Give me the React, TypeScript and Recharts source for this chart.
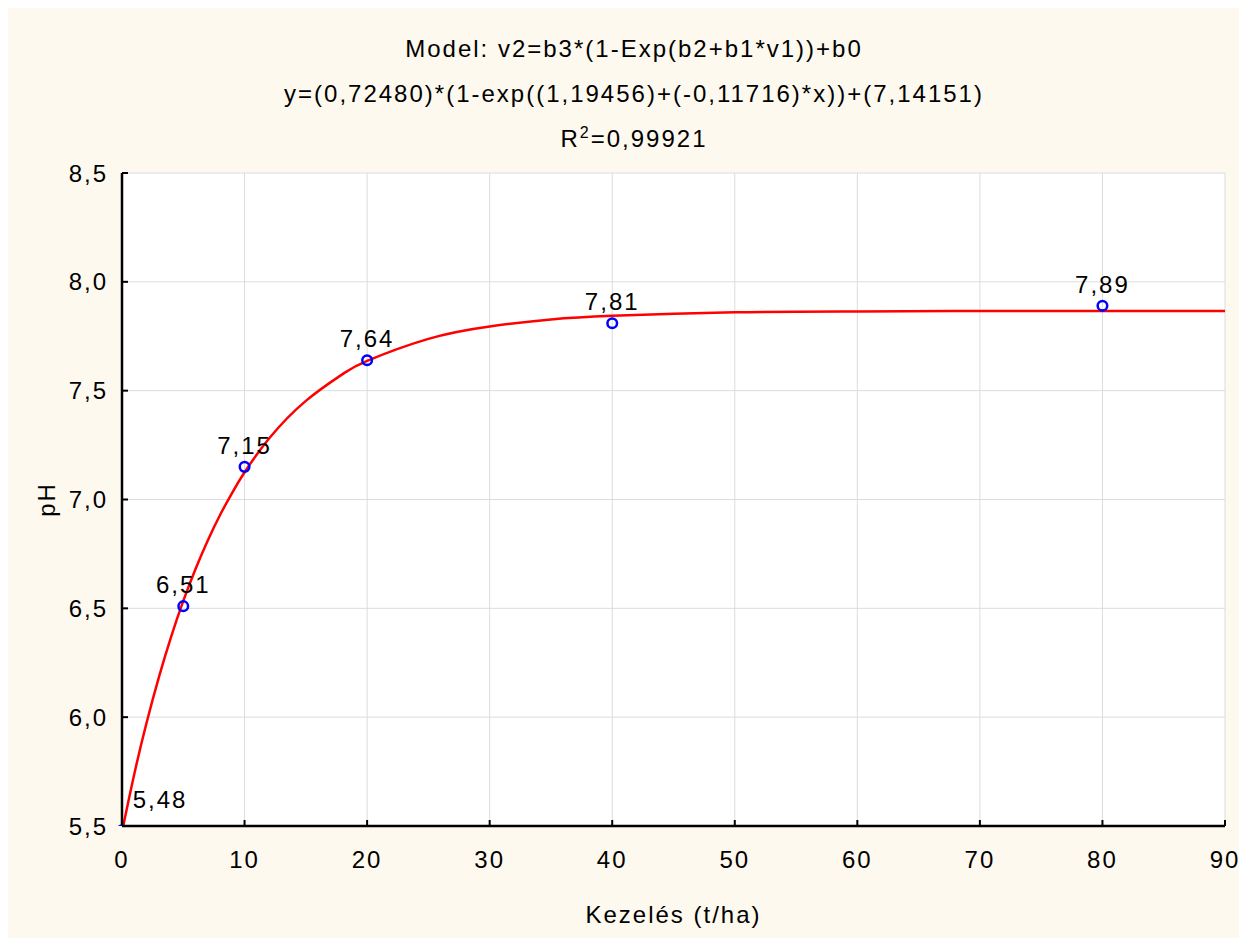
import { ComposedChart, Line, Scatter, XAxis, YAxis, CartesianGrid, LabelList } from 'recharts';

// measured points
const doseX = [0, 5, 10, 20, 40, 80];
const phY = [5.48, 6.51, 7.15, 7.64, 7.81, 7.89];
const phLabels = ['5,48', '6,51', '7,15', '7,64', '7,81', '7,89'];

// fitted curve
const curveX = [0, 1, 2, 3, 4, 5, 6, 7, 8, 9, 10, 12, 15, 18, 20, 25, 30, 35, 40, 50, 60, 70, 80, 90];
const curveY = [5.473, 5.738, 5.973, 6.182, 6.368, 6.534, 6.681, 6.812, 6.929, 7.032, 7.125, 7.28, 7.453, 7.576, 7.637, 7.738, 7.795, 7.827, 7.844, 7.86, 7.864, 7.866, 7.866, 7.866];

const xTicks = [0, 10, 20, 30, 40, 50, 60, 70, 80, 90];
const yTicks = [5.5, 6.0, 6.5, 7.0, 7.5, 8.0, 8.5];

const FONT = "Arial, 'Liberation Sans', sans-serif";
const TXT = { fontSize: 24, fontFamily: FONT, fill: '#000', letterSpacing: 2 };

const points = doseX.map((x, i) => ({ x, y: phY[i], label: phLabels[i] }));
const curve = curveX.map((x, i) => ({ x, y: curveY[i] }));

const fmtY = (v: number) => v.toFixed(1).replace('.', ',');

const Ring = (p: any) => (
  <circle cx={p.cx} cy={p.cy} r={4.8} fill="none" stroke="#0000ff" strokeWidth={2.5} />
);

const PointLabel = (p: any) => {
  const first = p.index === 0;
  return (
    <text x={p.x + p.width / 2 + (first ? 38 : 0)} y={p.y + p.height / 2 + (first ? -22 : -13)}
      textAnchor="middle" {...TXT}>
      {p.value}
    </text>
  );
};

// ticks point inward, into the plot
const BottomTick = (p: any) => (
  <g>
    <line x1={p.x} x2={p.x} y1={p.y - 25} y2={p.y - 31} stroke="#000" strokeWidth={2} />
    <text x={p.x} y={p.y} dy="0.71em" textAnchor="middle" {...TXT}>{p.payload.value}</text>
  </g>
);
const LeftTick = (p: any) => (
  <g>
    <line x1={p.x + 14} x2={p.x + 20} y1={p.y} y2={p.y} stroke="#000" strokeWidth={2} />
    <text x={p.x} y={p.y} dy="0.355em" textAnchor="end" {...TXT}>{fmtY(p.payload.value)}</text>
  </g>
);
const TopTick = (p: any) => (
  <line x1={p.x} x2={p.x} y1={p.y} y2={p.y + 6} stroke="#000" strokeWidth={2} />
);
const RightTick = (p: any) => (
  <line x1={p.x} x2={p.x - 6} y1={p.y} y2={p.y} stroke="#000" strokeWidth={2} />
);

export default function App() {
  const axisLine = { stroke: '#000', strokeWidth: 2.5 };
  return (
    <div style={{ position: 'relative', width: 1239, height: 930, background: '#fdf9ee', fontFamily: FONT }}>
      <div style={{ position: 'absolute', left: 0, width: 1252, top: 18, textAlign: 'center', fontSize: 24, letterSpacing: 2, lineHeight: '45px' }}>
        <div>Model: v2=b3*(1-Exp(b2+b1*v1))+b0</div>
        <div>y=(0,72480)*(1-exp((1,19456)+(-0,11716)*x))+(7,14151)</div>
        <div>R<span style={{ fontSize: 16, verticalAlign: 'super', lineHeight: 0 }}>2</span>=0,99921</div>
      </div>
      <div style={{ position: 'absolute', left: 0, top: 0 }}>
        <ComposedChart width={1239} height={930} margin={{ top: 165, right: 22, bottom: 12, left: 0 }}>
          <CartesianGrid stroke="#dcdcdc" fill="#ffffff" />
          <XAxis type="number" dataKey="x" domain={[0, 90]} ticks={xTicks} height={100}
            axisLine={axisLine} tickLine={false} tickSize={0} tickMargin={25} tick={BottomTick}
            label={{ value: 'Kezelés (t/ha)', position: 'insideBottom', offset: 3, ...TXT }} />
          <XAxis xAxisId="top" orientation="top" type="number" dataKey="x" domain={[0, 90]} ticks={xTicks} height={0}
            axisLine={axisLine} tickLine={false} tickSize={0} tickMargin={0} tick={TopTick} />
          <YAxis type="number" dataKey="y" domain={[5.5, 8.5]} ticks={yTicks} width={114} allowDataOverflow
            axisLine={axisLine} tickLine={false} tickSize={0} tickMargin={14} tick={LeftTick}
            label={(props: any) => {
              const vb = props.viewBox;
              const cy = vb.y + vb.height / 2;
              return <text x={38} y={cy} transform={`rotate(-90, 38, ${cy})`} textAnchor="middle" dy="0.355em" {...TXT}>pH</text>;
            }} />
          <YAxis yAxisId="right" orientation="right" type="number" domain={[5.5, 8.5]} ticks={yTicks} width={0}
            axisLine={axisLine} tickLine={false} tickSize={0} tickMargin={0} tick={RightTick} />
          <Scatter data={points} dataKey="y" shape={Ring} isAnimationActive={false}>
            <LabelList dataKey="label" content={PointLabel} />
          </Scatter>
          <Line data={curve} dataKey="y" type="natural" stroke="#ff0000" strokeWidth={2.5} dot={false} isAnimationActive={false} />
        </ComposedChart>
      </div>
    </div>
  );
}
